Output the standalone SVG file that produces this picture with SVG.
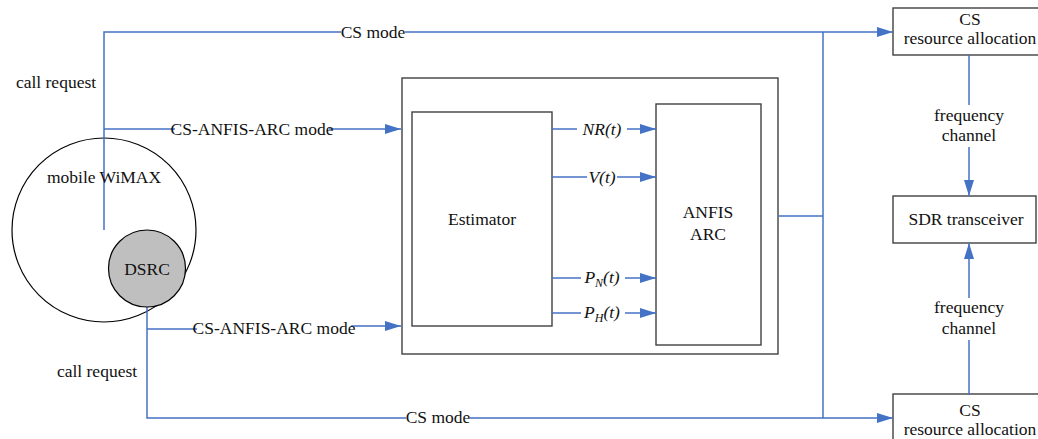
<svg xmlns="http://www.w3.org/2000/svg" width="1038" height="439" viewBox="0 0 1038 439" font-family="'Liberation Serif', 'Times New Roman', 'DejaVu Serif', serif">
<style>
text{font-family:'Liberation Serif','Times New Roman','DejaVu Serif',serif;font-size:17.5px;fill:#111;text-anchor:middle}
.it{font-style:italic}
.box{fill:#fff;stroke:#404040;stroke-width:1.4}
.conn{fill:none;stroke:#4472C4;stroke-width:1.5}
.bg{fill:#fff;stroke:none}
</style>
<defs>
<marker id="ah" markerUnits="userSpaceOnUse" markerWidth="16" markerHeight="10" refX="16" refY="5" orient="auto">
<path d="M0,0 L16,5 L0,10 z" fill="#4472C4"/>
</marker>
</defs>
<g id="outer-box"><rect class="box" x="402" y="78" width="376" height="276"/></g>
<g id="estimator"><rect class="box" x="412" y="112" width="140" height="214"/><text x="482" y="225">Estimator</text></g>
<g id="anfis-arc"><rect class="box" x="656" y="104" width="105" height="241"/><text x="708" y="218">ANFIS</text><text x="708" y="240">ARC</text></g>
<g id="cs-top"><rect class="box" x="893" y="8" width="160" height="47"/><text x="970" y="25">CS</text><text x="970" y="44">resource allocation</text></g>
<g id="sdr"><rect class="box" x="893" y="196" width="143" height="47"/><text x="966" y="225">SDR transceiver</text></g>
<g id="cs-bottom"><rect class="box" x="893" y="394" width="160" height="60"/><text x="970" y="416">CS</text><text x="970" y="435">resource allocation</text></g>
<g id="wimax"><circle cx="104" cy="230" r="92" fill="none" stroke="#000" stroke-width="1.2"/></g>
<g id="connectors">
<path class="conn" d="M104,230 V32 H893" marker-end="url(#ah)"/>
<path class="conn" d="M104,129 H401" marker-end="url(#ah)"/>
<path class="conn" d="M147,307 V418 H893" marker-end="url(#ah)"/>
<path class="conn" d="M147,329 H274 V326 H401" marker-end="url(#ah)"/>
<path class="conn" d="M823,32 V418"/>
<path class="conn" d="M778,216 H823"/>
<path class="conn" d="M552,129 H656" marker-end="url(#ah)"/>
<path class="conn" d="M552,177 H656" marker-end="url(#ah)"/>
<path class="conn" d="M552,278 H656" marker-end="url(#ah)"/>
<path class="conn" d="M552,313 H656" marker-end="url(#ah)"/>
<path class="conn" d="M969,55 V196" marker-end="url(#ah)"/>
<path class="conn" d="M969,395 V243" marker-end="url(#ah)"/>
<rect class="bg" x="341" y="24" width="64" height="16"/><text x="373" y="38">CS mode</text>
<rect class="bg" x="175" y="120" width="154" height="17"/><text x="252" y="135">CS-ANFIS-ARC mode</text>
<rect class="bg" x="197" y="319" width="154" height="17"/><text x="274" y="334">CS-ANFIS-ARC mode</text>
<rect class="bg" x="406" y="409" width="64" height="16"/><text x="438" y="423">CS mode</text>
<rect class="bg" x="577" y="120" width="50" height="18"/><text class="it" x="602" y="135">NR(t)</text>
<rect class="bg" x="587" y="168" width="30" height="18"/><text class="it" x="602" y="183">V(t)</text>
<rect class="bg" x="581" y="268" width="44" height="20"/><text class="it" x="602" y="283">P<tspan font-size="12" dy="4">N</tspan><tspan dy="-4">(t)</tspan></text>
<rect class="bg" x="581" y="303" width="44" height="20"/><text class="it" x="602" y="318">P<tspan font-size="12" dy="4">H</tspan><tspan dy="-4">(t)</tspan></text>
<rect class="bg" x="935" y="105" width="68" height="42"/><text x="969" y="121">frequency</text><text x="969" y="141">channel</text>
<rect class="bg" x="935" y="298" width="68" height="42"/><text x="969" y="313">frequency</text><text x="969" y="334">channel</text>
</g>
<g id="wimax-label"><text x="104" y="183">mobile WiMAX</text></g>
<g id="dsrc"><circle cx="147" cy="268.5" r="38.5" fill="#BFBFBF" stroke="#000" stroke-width="1.2"/><text x="147" y="275">DSRC</text></g>
<g id="labels">
<text x="56" y="88">call request</text>
<text x="97" y="377">call request</text>
</g>
</svg>
